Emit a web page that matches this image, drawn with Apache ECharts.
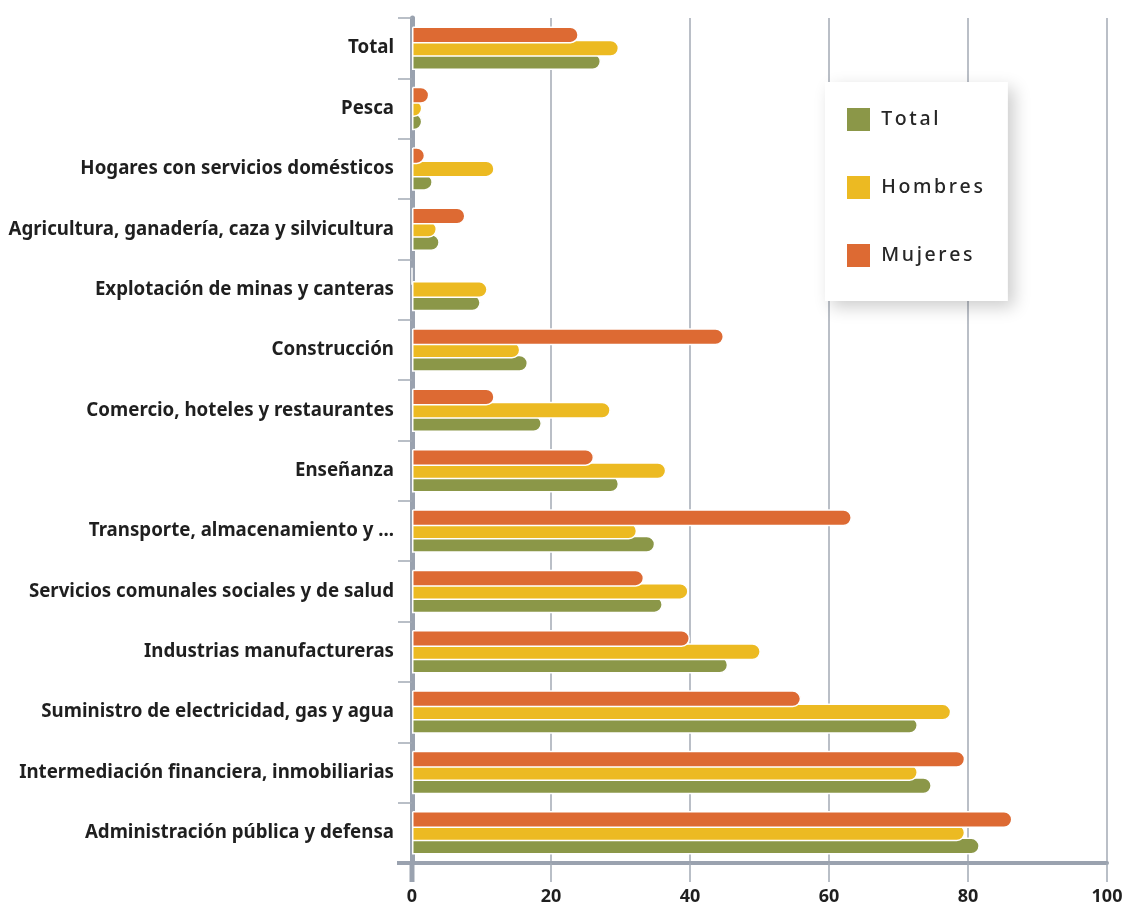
<!DOCTYPE html>
<html>
<head>
<meta charset="utf-8">
<title>Participación por rama de actividad</title>
<script src="https://cdn.jsdelivr.net/npm/echarts@6/dist/echarts.min.js"></script>
<style>
  html, body { margin: 0; padding: 0; background: #ffffff; }
  #chart { width: 1128px; height: 909px; }
</style>
</head>
<body>
<div id="chart"></div>
<script>
// Ramas de actividad, listed from the bottom of the axis to the top
const categories = [
  'Administración pública y defensa',
  'Intermediación financiera, inmobiliarias',
  'Suministro de electricidad, gas y agua',
  'Industrias manufactureras',
  'Servicios comunales sociales y de salud',
  'Transporte, almacenamiento y ...',
  'Enseñanza',
  'Comercio, hoteles y restaurantes',
  'Construcción',
  'Explotación de minas y canteras',
  'Agricultura, ganadería, caza y silvicultura',
  'Hogares con servicios domésticos',
  'Pesca',
  'Total'
];

const totalValues   = [81.7, 74.8, 72.8, 45.5, 36.1, 35.0, 29.8, 18.7, 16.7, 9.9, 4.0, 3.0, 1.5, 27.2];
const hombresValues = [79.6, 72.8, 77.6, 50.2, 39.8, 32.4, 36.6, 28.6, 15.6, 10.9, 3.6, 11.9, 1.5, 29.8];
const mujeresValues = [86.4, 79.6, 56.0, 40.0, 33.4, 63.3, 26.2, 11.9, 44.9, 0, 7.7, 1.9, 2.5, 24.0];

const xTicks = { min: 0, max: 100, interval: 20 };

const AXIS_GRAY = '#9aa2af';
const GRID_GRAY = '#a3aab5';
const TEXT_DARK = '#1f1f1f';
const colors = { Total: '#8b9748', Hombres: '#ecba22', Mujeres: '#dd6a33' };

const chart = echarts.init(document.getElementById('chart'), null, { renderer: 'canvas' });

function barSeries(name, values, z) {
  return {
    name: name,
    type: 'bar',
    data: values,
    z: z,
    barWidth: 17,
    barGap: '-22%',
    itemStyle: {
      color: colors[name],
      borderColor: '#ffffff',
      borderWidth: 1.5,
      borderRadius: [0, 8.5, 8.5, 0]
    },
    emphasis: { disabled: true }
  };
}

// letter-spaced legend text built from rich fragments
function spaced(name) {
  return name.split('').map(c => '{s|' + c + '}').join('');
}

chart.setOption({
  animation: false,
  backgroundColor: '#ffffff',
  grid: { left: 412, right: 21, top: 18, bottom: 46, containLabel: false },
  legend: {
    data: ['Total', 'Hombres', 'Mujeres'],
    orient: 'vertical',
    left: 825,
    top: 82,
    padding: [24, 25, 32, 20],
    itemGap: 41,
    itemWidth: 25,
    itemHeight: 25,
    icon: 'rect',
    backgroundColor: '#ffffff',
    shadowColor: 'rgba(0,0,0,0.2)',
    shadowBlur: 16,
    shadowOffsetX: 6,
    shadowOffsetY: 6,
    formatter: spaced,
    textStyle: {
      color: '#262626',
      fontFamily: 'Noto Sans',
      fontSize: 19.5,
      padding: [0, 0, 0, 4],
      rich: {
        s: { fontFamily: 'Noto Sans', fontSize: 19.5, fontWeight: 500, color: '#262626', padding: [0, 1.3, 0, 1.3] }
      }
    },
    selectedMode: false
  },
  xAxis: {
    type: 'value',
    min: xTicks.min,
    max: xTicks.max,
    interval: xTicks.interval,
    axisLine: { show: true, lineStyle: { color: AXIS_GRAY, width: 4 } },
    axisTick: { show: true, length: 19, lineStyle: { color: GRID_GRAY, width: 1.5 } },
    splitLine: { show: true, lineStyle: { color: GRID_GRAY, width: 1.5 } },
    axisLabel: {
      color: TEXT_DARK,
      fontFamily: 'Noto Sans',
      fontWeight: 'bold',
      fontSize: 18,
      margin: 25
    }
  },
  yAxis: {
    type: 'category',
    data: categories,
    axisLine: { show: true, lineStyle: { color: AXIS_GRAY, width: 5 } },
    axisTick: { show: true, length: 14, lineStyle: { color: GRID_GRAY, width: 1.5 } },
    splitLine: { show: false },
    axisLabel: {
      color: TEXT_DARK,
      fontFamily: 'Noto Sans',
      fontWeight: 'bold',
      fontSize: 18.7,
      margin: 18,
      padding: [0, 0, 8, 0]
    }
  },
  series: [
    barSeries('Mujeres', mujeresValues, 4),
    barSeries('Hombres', hombresValues, 3),
    barSeries('Total', totalValues, 2)
  ]
});

// extend the axis corner: the value axis line reaches left past the category
// axis and the category axis line continues below the value axis
function drawCorner() {
  const x0 = chart.convertToPixel({ xAxisIndex: 0 }, 0);
  const yA = chart.convertToPixel({ yAxisIndex: 0 }, categories[0]);
  const yB = chart.convertToPixel({ yAxisIndex: 0 }, categories[1]);
  const band = Math.abs(yA - yB);
  const yBottom = yA + band / 2;
  chart.setOption({
    graphic: [
      { type: 'line', z: 10, shape: { x1: x0 - 15, y1: yBottom, x2: x0, y2: yBottom },
        style: { stroke: AXIS_GRAY, lineWidth: 4 } },
      { type: 'line', z: 10, shape: { x1: x0, y1: yBottom, x2: x0, y2: yBottom + 19 },
        style: { stroke: AXIS_GRAY, lineWidth: 5 } }
    ]
  });
}
drawCorner();
</script>
</body>
</html>
